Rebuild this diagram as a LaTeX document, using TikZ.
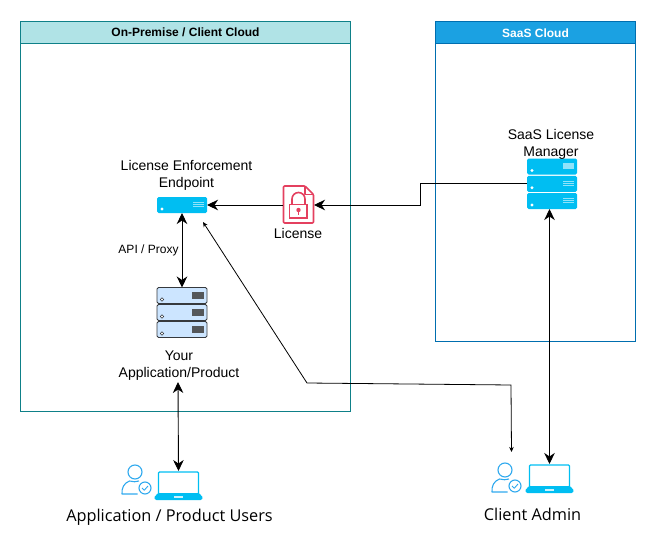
\documentclass[tikz,border=0pt]{standalone}
\usepackage{fontspec}
\setmainfont{Liberation Sans}
\newfontfamily\labelfont{Open Sans}
\usetikzlibrary{arrows.meta,positioning}
\definecolor{tealline}{HTML}{0E8088}
\definecolor{tealfill}{HTML}{B0E3E6}
\definecolor{blueline}{HTML}{006EAF}
\definecolor{bluefill}{HTML}{1BA1E2}
\definecolor{azure}{HTML}{00BEF2}
\definecolor{azurelight}{HTML}{8FE3FA}
\definecolor{personblue}{HTML}{2FA9EE}
\definecolor{srvfill}{HTML}{CCE5FF}
\definecolor{srvline}{HTML}{36393D}
\definecolor{lockred}{HTML}{E4405F}
\tikzset{
  box/.style={draw,line width=1pt,inner sep=0pt,outer sep=0pt,anchor=north west},
  head/.style={box,font=\bfseries\fontsize{12}{14}\selectfont},
  txt/.style={font=\fontsize{14}{17}\selectfont,align=center,inner sep=0pt},
  small/.style={font=\fontsize{12}{14}\selectfont,align=center,inner sep=0pt},
  big/.style={font=\labelfont\fontsize{16.3}{19}\selectfont,inner sep=0pt},
  holder/.style={inner sep=0pt,minimum width=#1,outer sep=0pt},
  link/.style={line width=0.9pt,-{Stealth[length=11pt,width=10.5pt,inset=3.5pt]}},
  dlink/.style={line width=0.9pt,{Stealth[length=11pt,width=10.5pt,inset=3.5pt]}-{Stealth[length=11pt,width=10.5pt,inset=3.5pt]}},
  thin link/.style={line width=0.8pt,{Stealth[length=5pt,width=4.5pt,inset=1.5pt]}-{Stealth[length=5pt,width=4.5pt,inset=1.5pt]}},
}
\newcommand{\bluerow}[4]{%
  \fill[azure,rounded corners=1.5pt] (#1,#2) rectangle ++(50,#3);
  \fill[white] (#1+5,#2+#3-4) circle (1.6);
  #4
}
\newcommand{\striped}[2]{\foreach \k in {0,2.3,4.6}{\draw[azurelight,line width=1pt] (#1+36,#2+\k) -- ++(11,0);}}
\newcommand{\greyrow}[2]{%
  \draw[srvline,fill=srvfill,rounded corners=1.5pt,line width=0.8pt] (#1,#2) rectangle ++(50,16);
  \draw[srvline,fill=white,line width=0.6pt] (#1+5,#2+12) circle (1.7);
  \fill[srvline!85!white] (#1+35,#2+4) rectangle ++(12,7);
}
\newcommand{\usericon}[2]{%
  \begin{scope}[shift={(#1,#2)},personblue,line width=1.1pt,line join=round]
    \draw (14,8) circle (7);
    \draw (18,17) .. controls (15,18) and (12,18) .. (8.5,17) .. controls (3,19) and (0.5,24) .. (1,30) -- (16.5,30);
    \draw (24,24) circle (6);
    \draw[line width=0.9pt] (21,24) -- (23.3,26.2) -- (27,22);
  \end{scope}}
\newcommand{\laptopicon}[2]{%
  \begin{scope}[shift={(#1,#2)}]
    \draw[azure,line width=1.3pt,rounded corners=1pt] (4.5,1) rectangle (44.5,23);
    \fill[azure,rounded corners=1pt] (4,22) -- (45,22) -- (49,26.5) -- (47.5,29) -- (1.5,29) -- (0,26.5) -- cycle;
    \fill[white!80!azure] (20,24.5) rectangle (29,26.5);
  \end{scope}}
\begin{document}
\begin{tikzpicture}[x=1pt,y=-1pt]
\useasboundingbox (0,0) rectangle (654,543);
% containers
\node[box,draw=tealline,minimum width=330pt,minimum height=389.5pt] (onprem) at (20.5,21.5) {};
\node[head,draw=tealline,fill=tealfill,minimum width=330pt,minimum height=22.5pt] (onhead) at (20.5,21.5) {On-Premise / Client Cloud};
\node[box,draw=blueline,minimum width=200pt,minimum height=319.5pt] (saas) at (435.5,21.5) {};
\node[head,draw=blueline,fill=bluefill,text=white,minimum width=200pt,minimum height=22.5pt] (saashead) at (435.5,21.5) {SaaS Cloud};
% endpoint
\bluerow{157}{197}{16}{\striped{157}{202}}
\node[holder=50pt,minimum height=16pt] (endpoint) at (182,205) {};
\node[txt] (endlabel) at (186.5,175) {License Enforcement\\Endpoint};
% application server
\greyrow{157}{287.5}\greyrow{157}{304.5}\greyrow{157}{321.5}
\node[holder=50pt,minimum height=51pt] (app) at (182,313) {};
\node[txt] (applabel) at (179,366) {Your\\Application/Product};
% SaaS server
\bluerow{527}{158.5}{16}{\fill[azurelight] (563,163) rectangle ++(11,6);}
\bluerow{527}{175.8}{16}{\striped{527}{181}}
\bluerow{527}{193}{16}{\striped{527}{198}}
\node[holder=50pt,minimum height=51pt] (manager) at (552,183.5) {};
\node[txt] (manlabel) at (551,144) {SaaS License\\Manager};
% licence icon
\node[holder=31pt,minimum height=39pt] (lic) at (298.5,204.5) {};
\draw[lockred,line width=1.6pt,line join=round,rounded corners=1pt] (283.5,186) -- (305,186) -- (313.5,194.5) -- (313.5,223) -- (283.5,223) -- cycle;
\draw[lockred,line width=1.2pt,line join=round] (305,186) -- (305,194.5) -- (313.5,194.5);
\draw[lockred,line width=1.6pt] (289.5,204.5) rectangle (307,218);
\draw[lockred,line width=1.6pt] (292,204.5) -- (292,199) arc[start angle=180,end angle=360,radius=6.5] -- (305,204.5);
\fill[lockred] (298.5,210) circle (2.2);
\draw[lockred,line width=1pt] (298.5,210) -- (298.5,215);
\node[txt] (liclabel) at (298,233) {License};
% people
\usericon{121}{464}
\laptopicon{154}{471}
\node[holder=49pt,minimum height=29pt] (laptopa) at (178.5,485.5) {};
\node[big] (alabel) at (169.5,517) {Application / Product Users};
\usericon{491}{462}
\laptopicon{525}{464}
\node[holder=49pt,minimum height=29pt] (laptopb) at (549.5,478.5) {};
\node[big] (blabel) at (532.5,514) {Client Admin};
% free ends
\coordinate (thinA) at (203,222);
\coordinate (thinB) at (307,383);
\coordinate (thinC) at (511,385);
\coordinate (thinD) at (511.5,452);
\coordinate (bendA) at (420,183.5);
\coordinate (bendB) at (420,205);
\coordinate (appfoot) at (178,382);
% connectors
\draw[link] (lic.west |- endpoint.east) -- (endpoint.east);
\draw[link] (manager.west) -- (bendA) -- (bendB) -- (lic.east |- endpoint.east);
\draw[dlink] (endpoint.south) -- (app.north);
\node[small] (apilabel) at (148.5,250) {API / Proxy};
\draw[dlink] (appfoot) -- (laptopa.north);
\draw[dlink] (manager.south -| laptopb.north) -- (laptopb.north);
\draw[thin link] (thinA) -- (thinB) -- (thinC) -- (thinD);
\end{tikzpicture}
\end{document}
